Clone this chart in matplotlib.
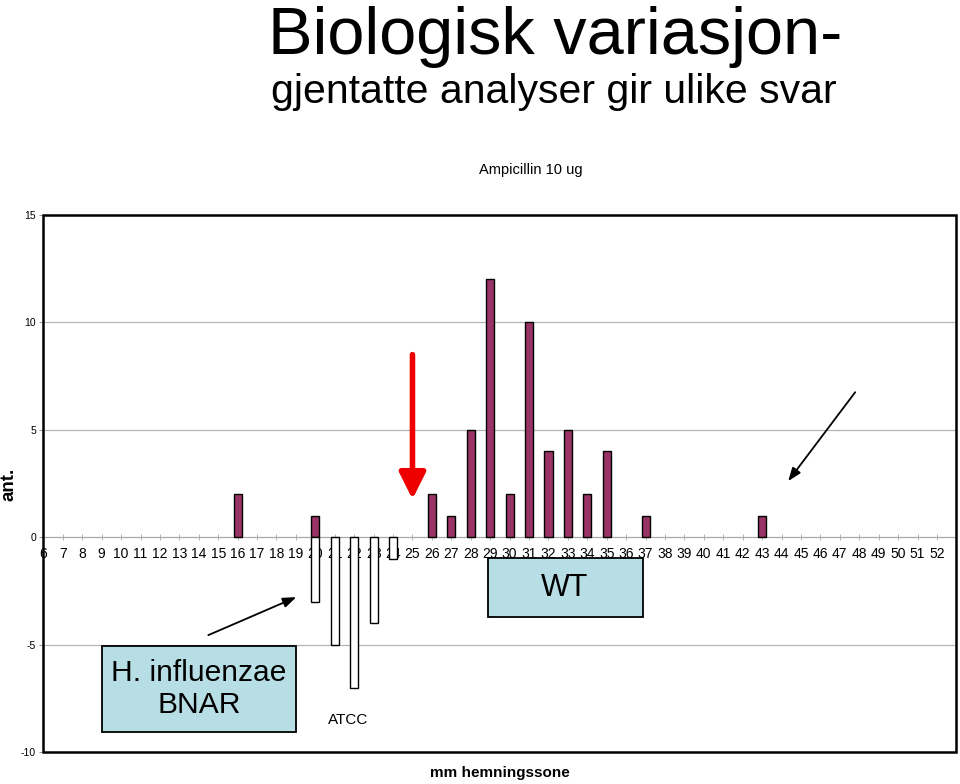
import matplotlib
matplotlib.use("Agg")
import matplotlib.pyplot as plt
from matplotlib.patches import Rectangle

plt.rcParams['font.family'] = ['Liberation Sans', 'DejaVu Sans']

categories = list(range(6, 53))
wt_x = [16, 20, 26, 27, 28, 29, 30, 31, 32, 33, 34, 35, 37, 43]
wt_counts = [2, 1, 2, 1, 5, 12, 2, 10, 4, 5, 2, 4, 1, 1]
bnar_x = [20, 21, 22, 23, 24]
bnar_counts = [-3, -5, -7, -4, -1]
y_ticks = [-10, -5, 0, 5, 10, 15]

W, H = 960, 784
fig = plt.figure(figsize=(W / 100, H / 100), dpi=100)

def fx(px):
    return px / W

def fy(py):
    return 1 - py / H

ax = fig.add_axes([fx(43), fy(752), fx(956) - fx(43), fy(215) - fy(752)])

ax.bar(wt_x, wt_counts, width=0.42, color='#993366', edgecolor='black', linewidth=1.0, zorder=3)
ax.bar(bnar_x, bnar_counts, width=0.42, color='white', edgecolor='black', linewidth=1.0, zorder=3)

ax.set_xlim(5.98, 52.98)
ax.set_ylim(-10, 15)
ax.set_yticks(y_ticks)
ax.set_yticklabels([str(v) for v in y_ticks], fontsize=7.5)
ax.set_xticks(categories)
ax.set_xticklabels([str(c) for c in categories], fontsize=6)

for v in [5, 10, -5]:
    ax.axhline(v, color='#b4b4b4', linewidth=0.9, zorder=1)

ax.spines['bottom'].set_position(('data', 0))
ax.spines['bottom'].set_color('#a8a8a8')
ax.spines['bottom'].set_linewidth(0.9)
for s in ['top', 'right', 'left']:
    ax.spines[s].set_visible(False)
ax.tick_params(axis='x', direction='inout', length=4, width=0.6, color='#a8a8a8', pad=5)
ax.tick_params(axis='y', direction='out', length=3, width=0.6, color='#808080', pad=2)

ax.add_patch(Rectangle((0, 0), 1, 1, transform=ax.transAxes, fill=False,
                       edgecolor='black', linewidth=1.8, zorder=5, clip_on=False))

# arrows
ax.annotate('', xy=(25, 1.77), xytext=(25, 8.5),
            arrowprops=dict(arrowstyle='-|>,head_length=1.6,head_width=0.8', color='#ee0000',
                            lw=4.0, shrinkA=0, shrinkB=0), zorder=6)
ax.annotate('', xy=(44.34, 2.61), xytext=(47.79, 6.75),
            arrowprops=dict(arrowstyle='-|>,head_length=0.8,head_width=0.3', color='black',
                            lw=1.3, shrinkA=0, shrinkB=0), zorder=6)
ax.annotate('', xy=(19.02, -2.79), xytext=(14.49, -4.56),
            arrowprops=dict(arrowstyle='-|>,head_length=0.8,head_width=0.3', color='black',
                            lw=1.3, shrinkA=0, shrinkB=0), zorder=6)

# boxes
def box(x0, y0, x1, y1):
    fig.add_artist(Rectangle((fx(x0), fy(y1)), fx(x1) - fx(x0), fy(y0) - fy(y1),
                             transform=fig.transFigure, facecolor='#b7dee4',
                             edgecolor='black', linewidth=1.3, zorder=7))

box(488, 558, 643, 617)
fig.text(fx(565), fy(588), 'WT', ha='center', va='center', fontsize=22, zorder=8)
box(102, 646, 296, 732)
fig.text(fx(199), fy(689), 'H. influenzae\nBNAR', ha='center', va='center', fontsize=21.6,
         linespacing=1.2, zorder=8)

fig.text(fx(348), fy(720), 'ATCC', ha='center', va='center', fontsize=11)

fig.text(fx(555), fy(54), 'Biologisk variasjon-', ha='center', va='baseline', fontsize=48)
fig.text(fx(554), fy(92), 'gjentatte analyser gir ulike svar', ha='center', va='center', fontsize=29.5)
fig.text(fx(531), fy(170), 'Ampicillin 10 ug', ha='center', va='center', fontsize=10.5)

fig.text(fx(9), fy(484), 'ant.', ha='center', va='center', rotation=90, fontsize=13.5, fontweight='bold')
fig.text(fx(500), fy(773), 'mm hemningssone', ha='center', va='center', fontsize=11, fontweight='bold')

fig.savefig('out.png', dpi=100)
